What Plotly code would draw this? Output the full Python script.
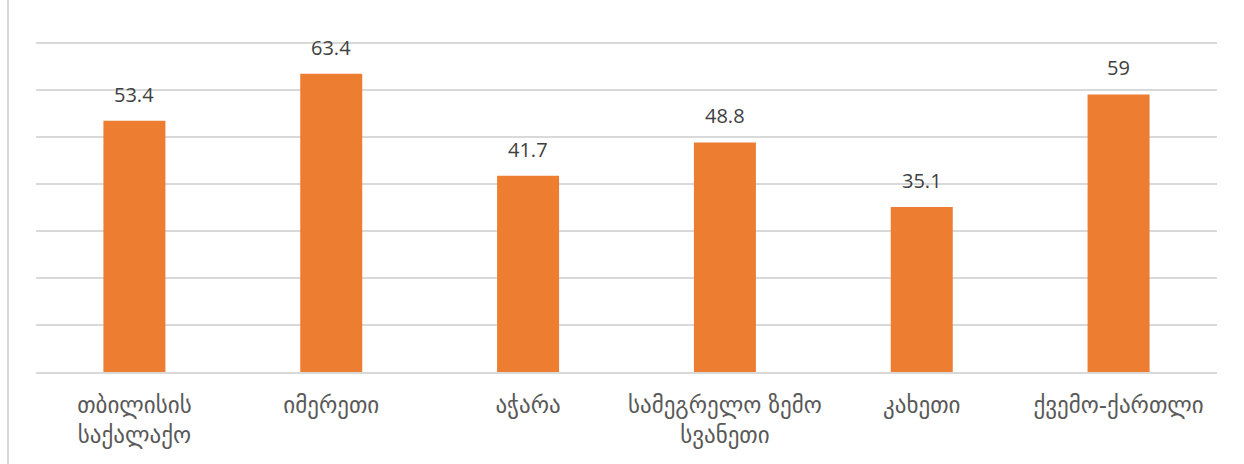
import plotly.graph_objects as go

categories = ["თბილისის<br>საქალაქო", "იმერეთი", "აჭარა", "სამეგრელო ზემო<br>სვანეთი", "კახეთი", "ქვემო-ქართლი"]
values = [53.4, 63.4, 41.7, 48.8, 35.1, 59]
labels = ["53.4", "63.4", "41.7", "48.8", "35.1", "59"]

W, H = 1244, 464
ml, mr, mt, mb = 36, 27, 38, 92

fig = go.Figure(go.Bar(
    x=categories, y=values,
    marker=dict(color="#ED7D31", line=dict(width=0)),
    width=0.315, hoverinfo="skip",
))

for c, v, t in zip(categories, values, labels):
    fig.add_annotation(x=c, y=v, text=t, showarrow=False, yanchor="bottom",
                       yshift=11, font=dict(family="Open Sans, DejaVu Sans", size=20, color="#404040"))

pw = W - ml - mr
ph = H - mt - mb
fig.update_layout(
    width=W, height=H,
    margin=dict(l=ml, r=mr, t=mt, b=mb, pad=0),
    plot_bgcolor="white", paper_bgcolor="white",
    showlegend=False,
    xaxis=dict(showgrid=False, showline=True, linecolor="#D9D9D9", linewidth=2,
               tickfont=dict(family="DejaVu Sans, Noto Sans", size=23, color="#595959"),
               ticks="", ticklen=0, ticklabelstandoff=11),
    yaxis=dict(range=[0, 71], tickvals=[10, 20, 30, 40, 50, 60, 70], showgrid=True,
               gridcolor="#D9D9D9", gridwidth=1.5,
               showticklabels=False, zeroline=False, ticks=""),
    shapes=[dict(type="line", xref="paper", yref="paper",
                 x0=-(ml - 8) / pw, x1=-(ml - 8) / pw,
                 y0=-mb / ph, y1=1 + mt / ph,
                 line=dict(color="#D9D9D9", width=2))],
)

fig.write_html("out.html", config={"displayModeBar": False},
               post_script="document.body.style.margin='0';document.body.style.padding='0';document.body.style.overflow='hidden';")
